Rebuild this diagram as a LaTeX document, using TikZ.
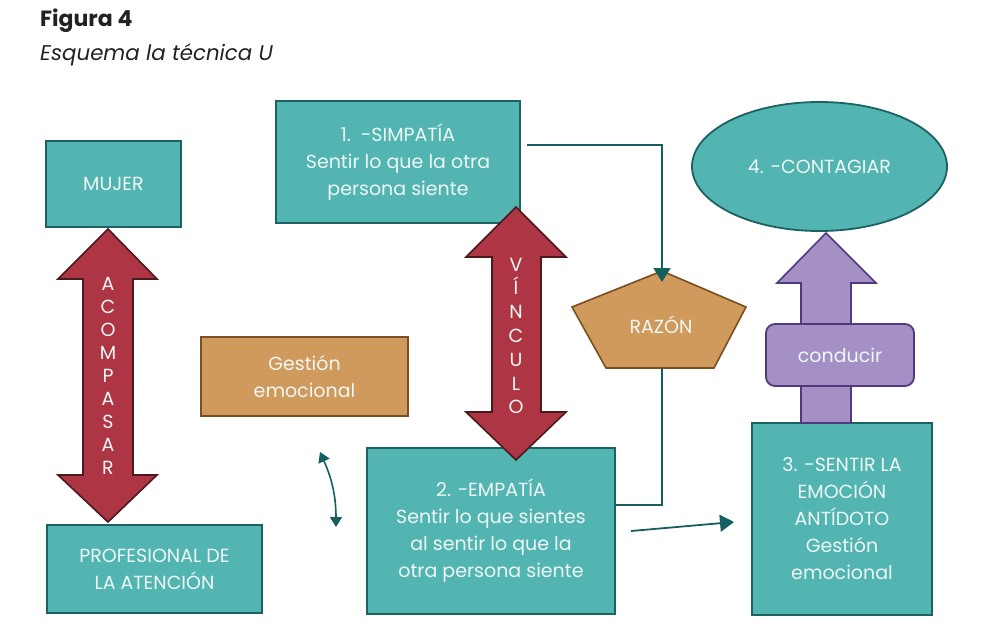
\documentclass[tikz,border=0pt]{standalone}
\usepackage{fontspec}
\setmainfont{Poppins}
\usetikzlibrary{arrows.meta,shapes.geometric}
\definecolor{tealfill}{HTML}{52B5B2}
\definecolor{tealdraw}{HTML}{1C6262}
\definecolor{redfill}{HTML}{AE3543}
\definecolor{reddraw}{HTML}{4B1A1E}
\definecolor{tanfill}{HTML}{CF9A5C}
\definecolor{tandraw}{HTML}{7B5020}
\definecolor{purfill}{HTML}{A590C5}
\definecolor{purdraw}{HTML}{4F3A80}
\definecolor{connc}{HTML}{15605F}
\definecolor{txtc}{HTML}{EEF7F6}
\definecolor{titlec}{HTML}{222222}
\tikzset{
  bodytext/.style={font=\fontsize{19}{27}\selectfont, text=txtc, align=center},
  tealbox/.style={bodytext, draw=tealdraw, fill=tealfill, line width=1.8pt, inner sep=0pt},
  tanbox/.style={bodytext, draw=tandraw, fill=tanfill, line width=1.8pt, inner sep=0pt},
  purbox/.style={bodytext, draw=purdraw, fill=purfill, line width=1.8pt, inner sep=0pt, rounded corners=9pt},
  redshape/.style={draw=reddraw, fill=redfill, line width=1.6pt, line join=miter},
  purshape/.style={draw=purdraw, fill=purfill, line width=1.6pt},
  tanshape/.style={draw=tandraw, fill=tanfill, line width=1.6pt},
  letter/.style={font=\fontsize{19}{20}\selectfont, text=txtc, anchor=base},
  conn/.style={draw=connc, line width=1.8pt},
  connhead/.style={-{Triangle[length=14pt,width=17pt]}},
}
\begin{document}
\begin{tikzpicture}[x=1pt,y=-1pt]
\useasboundingbox (0,0) rectangle (987,634);

% titles
\node[anchor=base west, text=titlec, font=\fontsize{22}{24}\selectfont\bfseries, inner sep=0pt] (t1) at (40,27) {Figura 4};
\node[anchor=base west, text=titlec, font=\fontsize{21.3}{24}\selectfont\itshape, inner sep=0pt] (t2) at (40,60) {Esquema la técnica U};

% boxes
\node[tealbox, minimum width=135pt, minimum height=86pt] (mujer) at (113.5,184) {MUJER};
\node[tealbox, minimum width=215pt, minimum height=88pt] (prof) at (154.5,569) {PROFESIONAL DE\\LA ATENCIÓN};
\node[tanbox, minimum width=207pt, minimum height=79pt] (gest) at (304.5,376.5) {Gestión\\emocional};
\node[tealbox, minimum width=244pt, minimum height=122pt] (simp) at (398,162) {1.\ \ -SIMPATÍA\\Sentir lo que la otra\\persona siente};
\node[tealbox, minimum width=248pt, minimum height=166pt] (emp) at (491,531) {2. -EMPATÍA\\Sentir lo que sientes\\al sentir lo que la\\otra persona siente};
\node[tealbox, minimum width=180pt, minimum height=192pt] (sent) at (842,519) {3. -SENTIR LA\\EMOCIÓN\\ANTÍDOTO\\Gestión\\emocional};
\node[tealbox, ellipse, minimum width=255pt, minimum height=129pt] (cont) at (819.5,166.5) {4. -CONTAGIAR};

% purple arrow (behind conducir)
\draw[purshape] (826,233) -- (777,283) -- (801,283) -- (801,423) -- (851,423) -- (851,283) -- (876,283) -- cycle;
\node[purbox, minimum width=148pt, minimum height=62pt] (cond) at (840,355) {conducir};

% red double arrows (on top of boxes)
\draw[redshape] (108,229) -- (58,279) -- (83,279) -- (83,475) -- (58,475) -- (108,522) -- (157,475) -- (133,475) -- (133,279) -- (157,279) -- cycle;
\foreach \l [count=\i from 0] in {A,C,O,M,P,A,S,A,R}
  \node[letter] (ac\i) at (108,{290+\i*23.1}) {\l};

\draw[redshape] (516,207) -- (466,257) -- (492,257) -- (492,412) -- (466,412) -- (516,460) -- (566,412) -- (541,412) -- (541,257) -- (566,257) -- cycle;
\foreach \l [count=\i from 0] in {V,Í,N,C,U,L,O}
  \node[letter] (vi\i) at (516,{271+\i*23.8}) {\l};

% pentagon RAZON
\draw[tanshape] (662,271) -- (746,307) -- (714,368) -- (606,368) -- (572,307) -- cycle;
\node[bodytext] (razon) at (661,325) {RAZÓN};
\coordinate (rtop) at (662,271);
\coordinate (rbot) at (662,368);

% connectors
\coordinate (s1) at (527,145);
\draw[conn, connhead] (s1) -| ([yshift=-11pt]rtop);
\draw[conn] (rbot) |- (emp.east |- 0,505);

\coordinate (a1) at (631,531);
\coordinate (a2) at (734,522);
\draw[conn, connhead] (a1) -- (a2);

\coordinate (c1) at (320,452);
\coordinate (c2) at (336,527);
\draw[conn, line width=1.6pt, {Triangle[length=10pt,width=12pt]}-{Triangle[length=10pt,width=12pt]}] (c1) to[bend left=12] (c2);
\end{tikzpicture}
\end{document}
